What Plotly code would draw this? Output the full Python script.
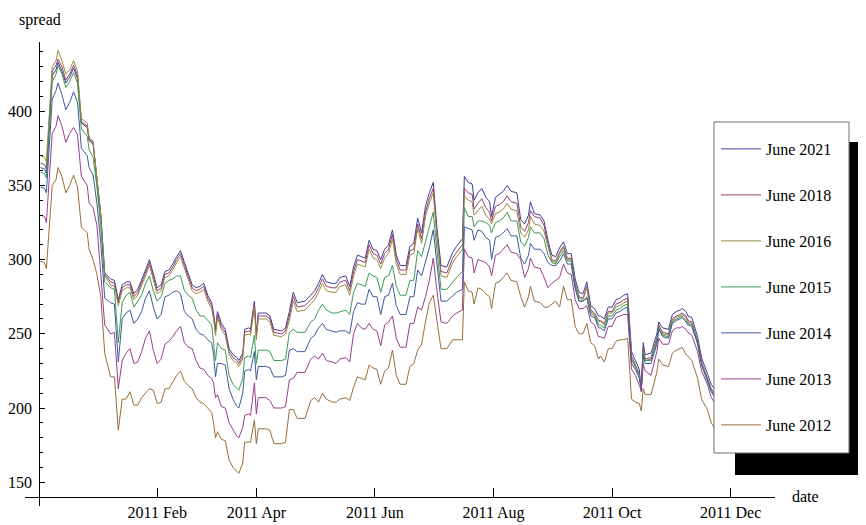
import plotly.graph_objects as go

dates = [
    "2010-12-11", "2010-12-13", "2010-12-14", "2010-12-17", "2010-12-19", "2010-12-20", "2010-12-22", "2010-12-24", "2010-12-26", "2010-12-28", "2010-12-30",
    "2011-01-01", "2011-01-04", "2011-01-05", "2011-01-07", "2011-01-09", "2011-01-11", "2011-01-13", "2011-01-16", "2011-01-18", "2011-01-20", "2011-01-22", "2011-01-24", "2011-01-26", "2011-01-28", "2011-01-30",
    "2011-02-01", "2011-02-03", "2011-02-05", "2011-02-07", "2011-02-09", "2011-02-11", "2011-02-13", "2011-02-15", "2011-02-17", "2011-02-19", "2011-02-21", "2011-02-23", "2011-02-25", "2011-02-27",
    "2011-03-01", "2011-03-03", "2011-03-05", "2011-03-07", "2011-03-09", "2011-03-10", "2011-03-11", "2011-03-12", "2011-03-14", "2011-03-16", "2011-03-18", "2011-03-20", "2011-03-22", "2011-03-23", "2011-03-25", "2011-03-26", "2011-03-28", "2011-03-29", "2011-03-31",
    "2011-04-01", "2011-04-02", "2011-04-06", "2011-04-08", "2011-04-10", "2011-04-14", "2011-04-16", "2011-04-18", "2011-04-20", "2011-04-22", "2011-04-26", "2011-04-29",
    "2011-05-01", "2011-05-03", "2011-05-05", "2011-05-07", "2011-05-10", "2011-05-12", "2011-05-14", "2011-05-17", "2011-05-19", "2011-05-21", "2011-05-23", "2011-05-25", "2011-05-27", "2011-05-29", "2011-05-31",
    "2011-06-02", "2011-06-04", "2011-06-06", "2011-06-08", "2011-06-10", "2011-06-12", "2011-06-14", "2011-06-17", "2011-06-19", "2011-06-21", "2011-06-23", "2011-06-25", "2011-06-27", "2011-06-29",
    "2011-07-01", "2011-07-03", "2011-07-05", "2011-07-08", "2011-07-11", "2011-07-13", "2011-07-16", "2011-07-17", "2011-07-19", "2011-07-21", "2011-07-22", "2011-07-24", "2011-07-26", "2011-07-28", "2011-07-30", "2011-07-31",
    "2011-08-02", "2011-08-04", "2011-08-06", "2011-08-08", "2011-08-10", "2011-08-13", "2011-08-15", "2011-08-17", "2011-08-19", "2011-08-20", "2011-08-22", "2011-08-25", "2011-08-27", "2011-08-29", "2011-08-31",
    "2011-09-02", "2011-09-04", "2011-09-06", "2011-09-08", "2011-09-10", "2011-09-12", "2011-09-14", "2011-09-16", "2011-09-18", "2011-09-20", "2011-09-22", "2011-09-24", "2011-09-25", "2011-09-27", "2011-09-29",
    "2011-10-01", "2011-10-03", "2011-10-05", "2011-10-07", "2011-10-09", "2011-10-11", "2011-10-13", "2011-10-15", "2011-10-16", "2011-10-17", "2011-10-18", "2011-10-21", "2011-10-24", "2011-10-25", "2011-10-27", "2011-10-30",
    "2011-11-01", "2011-11-03", "2011-11-05", "2011-11-06", "2011-11-08", "2011-11-09", "2011-11-11", "2011-11-14", "2011-11-16", "2011-11-19", "2011-11-21", "2011-11-23", "2011-11-27",
    "2011-12-01", "2011-12-05",
]

june_2021 = [
    362, 361, 358, 424, 428, 433, 427, 419, 423, 429, 422,
    392, 389, 380, 378, 356, 330, 291, 287, 286, 273, 283, 285, 285, 277, 280,
    286, 293, 300, 290, 281, 283, 292, 293, 297, 302, 306, 298, 290, 283,
    281, 282, 284, 276, 271, 264, 253, 265, 257, 253, 240, 236, 234, 232, 237, 253, 254, 253, 272,
    250, 264, 264, 262, 253, 252, 254, 265, 278, 271, 272, 276,
    279, 284, 290, 285, 284, 284, 288, 289, 282, 295, 303, 302, 301, 313, 307,
    306, 300, 307, 310, 320, 303, 296, 296, 309, 311, 328, 318, 336, 345,
    352, 320, 296, 295, 305, 309, 314, 356, 352, 351, 340, 345, 348, 342, 339, 329,
    342, 344, 346, 350, 346, 345, 327, 324, 330, 339, 331, 330, 326, 313, 303,
    302, 308, 312, 304, 304, 287, 278, 277, 285, 269, 267, 262, 262, 260, 268,
    268, 273, 274, 276, 277, 238, 232, 226, 211, 244, 236, 237, 250, 258, 254, 253,
    263, 265, 266, 267, 265, 262, 261, 248, 234, 223, 216, 212, 208,
    205, 203,
]

june_2018 = [
    365, 364, 361, 427, 431, 435, 430, 421, 425, 431, 424,
    393, 390, 381, 379, 356, 330, 290, 285, 284, 271, 281, 283, 283, 275, 278,
    284, 291, 298, 288, 279, 281, 290, 291, 295, 300, 304, 296, 288, 281,
    279, 280, 282, 274, 269, 262, 251, 263, 255, 251, 238, 234, 232, 230, 235, 251, 252, 251, 270,
    248, 262, 262, 260, 251, 250, 252, 262, 275, 268, 269, 273,
    276, 281, 287, 282, 281, 281, 285, 286, 279, 292, 300, 299, 298, 310, 304,
    303, 297, 304, 307, 317, 300, 293, 293, 306, 307, 324, 314, 332, 341,
    348, 316, 292, 291, 301, 305, 310, 348, 345, 344, 334, 338, 341, 335, 332, 326,
    336, 337, 339, 343, 339, 338, 322, 319, 325, 333, 329, 328, 323, 310, 300,
    299, 305, 309, 301, 301, 284, 275, 274, 282, 266, 264, 259, 259, 257, 265,
    265, 270, 271, 273, 274, 235, 229, 223, 212, 241, 233, 234, 247, 256, 251, 250,
    260, 262, 263, 264, 262, 259, 258, 245, 231, 220, 213, 209, 205,
    202, 200,
]

june_2016 = [
    370, 369, 366, 430, 434, 441, 434, 425, 428, 434, 427,
    395, 392, 382, 380, 355, 329, 289, 283, 282, 269, 279, 281, 281, 273, 276,
    282, 289, 296, 286, 277, 279, 288, 289, 293, 298, 302, 294, 286, 279,
    277, 278, 280, 272, 267, 260, 249, 261, 253, 249, 236, 232, 230, 228, 233, 249, 250, 249, 268,
    246, 260, 260, 258, 249, 248, 250, 259, 272, 265, 266, 270,
    273, 278, 284, 279, 278, 278, 282, 283, 276, 289, 297, 296, 295, 307, 301,
    300, 294, 301, 304, 314, 297, 290, 290, 303, 304, 321, 311, 329, 338,
    345, 313, 289, 288, 298, 302, 307, 343, 340, 339, 330, 333, 336, 330, 327, 324,
    331, 332, 334, 338, 334, 333, 318, 315, 320, 329, 324, 323, 319, 309, 299,
    298, 304, 308, 300, 300, 283, 274, 273, 281, 265, 263, 258, 258, 256, 264,
    264, 268, 269, 271, 272, 233, 228, 222, 212, 239, 232, 233, 245, 255, 250, 249,
    259, 261, 262, 263, 261, 258, 257, 244, 230, 219, 212, 208, 204,
    201, 199,
]

june_2015 = [
    359, 358, 355, 420, 425, 431, 425, 416, 420, 426, 419,
    388, 383, 374, 369, 349, 322, 285, 281, 280, 244, 271, 276, 278, 268, 272,
    276, 284, 289, 279, 272, 275, 284, 286, 287, 289, 289, 279, 276, 274,
    266, 262, 262, 259, 256, 244, 232, 244, 240, 239, 222, 216, 213, 212, 220, 234, 235, 234, 249,
    230, 239, 239, 238, 232, 232, 233, 251, 253, 251, 251, 258,
    260, 266, 270, 266, 264, 264, 265, 266, 263, 278, 284, 283, 282, 291, 289,
    288, 278, 288, 289, 296, 282, 276, 276, 286, 286, 306, 302, 312, 322,
    332, 305, 280, 280, 285, 288, 292, 335, 329, 329, 322, 326, 326, 325, 323, 318,
    325, 326, 328, 332, 326, 326, 312, 309, 315, 322, 318, 318, 314, 303, 298,
    297, 302, 306, 299, 299, 282, 272, 272, 275, 264, 262, 256, 256, 254, 262,
    262, 266, 267, 269, 270, 232, 228, 222, 213, 238, 232, 232, 245, 254, 249, 248,
    258, 260, 261, 262, 259, 257, 256, 244, 230, 219, 212, 208, 204,
    201, 199,
]

june_2014 = [
    349, 348, 345, 408, 414, 419, 411, 401, 406, 413, 406,
    375, 370, 362, 357, 338, 311, 274, 271, 270, 231, 260, 264, 266, 257, 260,
    265, 274, 279, 268, 260, 263, 275, 276, 278, 279, 277, 265, 262, 260,
    253, 250, 249, 246, 244, 236, 221, 230, 230, 229, 213, 206, 201, 200, 210, 225, 226, 225, 238,
    219, 228, 228, 227, 221, 221, 222, 239, 240, 238, 238, 247,
    249, 254, 257, 253, 252, 251, 252, 252, 250, 265, 271, 270, 270, 280, 275,
    275, 263, 275, 276, 284, 269, 263, 263, 275, 275, 293, 289, 299, 308,
    320, 295, 272, 272, 276, 278, 280, 322, 321, 320, 313, 320, 319, 315, 313, 300,
    315, 316, 318, 321, 316, 316, 301, 297, 303, 311, 307, 307, 304, 298, 296,
    296, 299, 304, 297, 297, 280, 272, 272, 274, 262, 261, 254, 254, 252, 260,
    260, 264, 265, 267, 268, 230, 226, 220, 213, 236, 230, 230, 243, 253, 248, 247,
    257, 259, 260, 261, 258, 256, 255, 243, 229, 218, 211, 207, 203,
    200, 198,
]

june_2013 = [
    330, 329, 325, 385, 390, 397, 390, 379, 385, 389, 384,
    356, 350, 338, 335, 323, 290, 256, 250, 251, 213, 232, 237, 240, 230, 231,
    238, 247, 252, 239, 230, 233, 243, 245, 248, 252, 255, 244, 241, 240,
    232, 227, 226, 222, 220, 217, 207, 209, 201, 200, 190, 185, 181, 180, 187, 195, 196, 195, 217,
    196, 207, 207, 205, 200, 200, 201, 219, 220, 224, 224, 233,
    235, 233, 237, 232, 231, 230, 233, 234, 231, 250, 257, 254, 253, 257, 253,
    252, 242, 256, 258, 262, 247, 241, 241, 257, 257, 268, 266, 275, 286,
    301, 278, 258, 257, 262, 264, 266, 307, 302, 301, 291, 300, 299, 298, 295, 289,
    303, 304, 307, 310, 305, 304, 300, 288, 294, 301, 295, 294, 288, 281, 284,
    286, 288, 297, 291, 290, 273, 267, 267, 269, 258, 256, 248, 248, 247, 255,
    255, 261, 262, 263, 263, 226, 222, 216, 212, 230, 225, 222, 238, 247, 243, 243,
    252, 254, 254, 255, 253, 251, 249, 238, 225, 216, 207, 203, 200,
    197, 195,
]

june_2012 = [
    299, 298, 294, 350, 354, 362, 356, 345, 350, 357, 349,
    322, 318, 307, 300, 290, 275, 237, 221, 221, 185, 206, 206, 211, 202, 202,
    207, 210, 213, 212, 203, 204, 213, 213, 218, 222, 225, 218, 215, 213,
    207, 204, 203, 200, 197, 190, 180, 184, 179, 178, 165, 160, 157, 156, 163, 177, 177, 177, 192,
    176, 186, 186, 185, 176, 176, 177, 199, 199, 193, 193, 205,
    207, 204, 210, 206, 204, 204, 206, 207, 205, 214, 221, 220, 219, 229, 227,
    226, 216, 225, 227, 239, 222, 216, 216, 228, 230, 239, 243, 258, 271,
    276, 258, 240, 240, 246, 246, 246, 285, 279, 278, 270, 281, 280, 277, 275, 267,
    284, 285, 288, 291, 286, 285, 275, 268, 275, 282, 272, 271, 268, 268, 270,
    272, 268, 282, 273, 273, 255, 250, 250, 257, 244, 242, 233, 235, 231, 240,
    240, 245, 246, 246, 247, 206, 204, 203, 198, 213, 209, 209, 224, 233, 229, 228,
    237, 239, 240, 241, 236, 235, 232, 220, 206, 199, 190, 186, 183,
    180, 178,
]

series_names = ["June 2021", "June 2018", "June 2016", "June 2015", "June 2014", "June 2013", "June 2012"]
series_values = [june_2021, june_2018, june_2016, june_2015, june_2014, june_2013, june_2012]
series_colors = ["#3d3d99", "#993d71", "#998b3d", "#3d9956", "#3d5a99", "#993d90", "#996d3d"]

x_tick_vals = ["2011-02-09", "2011-04-01", "2011-06-01", "2011-08-01", "2011-10-01", "2011-12-01"]
x_tick_text = ["2011 Feb", "2011 Apr", "2011 Jun", "2011 Aug", "2011 Oct", "2011 Dec"]

fig = go.Figure()
for name, vals, color in zip(series_names, series_values, series_colors):
    fig.add_trace(go.Scatter(
        x=dates, y=vals, mode="lines", name=name, legendgroup=name,
        line=dict(color=color, width=1),
    ))

# The page body adds an 8px offset, so the figure is laid out 8px up-left
# of the target window coordinates.
OFF = 8
W, H = 866, 525
PLOT_L, PLOT_R, PLOT_T, PLOT_B = 25, 775, 42, 506   # window pixel coords of plot area
L, T = PLOT_L - OFF, PLOT_T - OFF
PW, PH = PLOT_R - PLOT_L, PLOT_B - PLOT_T
R, B = W - L - PW, H - T - PH


def px(xp):
    return (xp - PLOT_L) / PW


def py(yp):
    return (PLOT_B - yp) / PH


FONT = "Liberation Serif, Times New Roman, serif"

fig.update_layout(
    template="none",
    width=W, height=H,
    margin=dict(l=L, r=R, t=T, b=B, pad=0, autoexpand=False),
    paper_bgcolor="white", plot_bgcolor="white",
    font=dict(family=FONT, size=16, color="black"),
    showlegend=True,
    legend=dict(
        x=px(716), y=py(132), xanchor="left", yanchor="top",
        bgcolor="rgba(0,0,0,0)", borderwidth=0,
        traceorder="grouped", tracegroupgap=22.2,
        font=dict(family=FONT, size=16, color="black"),
        itemwidth=40,
    ),
    xaxis=dict(
        type="date", automargin=False,
        range=["2010-12-03", "2011-12-23 19:00"],
        anchor="free", position=py(497.3),
        showline=True, linecolor="black", linewidth=1,
        ticks="inside", ticklen=9, tickwidth=1, tickcolor="black",
        tickvals=x_tick_vals, ticktext=x_tick_text,
        showgrid=False, zeroline=False,
        tickfont=dict(family=FONT, size=16, color="black"),
    ),
    yaxis=dict(
        automargin=False,
        range=[134, 446.6],
        anchor="free", position=px(39.3),
        showline=True, linecolor="black", linewidth=1,
        ticks="inside", ticklen=5, tickwidth=1, tickcolor="black",
        tick0=150, dtick=50, ticklabelstandoff=4,
        minor=dict(ticks="inside", ticklen=3, tickwidth=1, tickcolor="black", dtick=10, tick0=0, showgrid=False),
        showgrid=False, zeroline=False,
        tickfont=dict(family=FONT, size=16, color="black"),
    ),
    shapes=[
        dict(type="rect", xref="paper", yref="paper", layer="above",
             x0=px(735), x1=px(880), y0=py(475), y1=py(142),
             fillcolor="black", line=dict(width=0)),
        dict(type="rect", xref="paper", yref="paper", layer="above",
             x0=px(714), x1=px(849), y0=py(453), y1=py(122),
             fillcolor="white", line=dict(color="#6e6e6e", width=1)),
    ],
    annotations=[
        dict(text="spread", xref="paper", yref="paper", x=px(39.5), y=py(20),
             xanchor="center", yanchor="middle", showarrow=False,
             font=dict(family=FONT, size=16, color="black")),
        dict(text="date", xref="paper", yref="paper", x=px(790), y=py(496),
             xanchor="left", yanchor="middle", showarrow=False,
             font=dict(family=FONT, size=16, color="black")),
    ],
)

fig.write_html("out.html")
